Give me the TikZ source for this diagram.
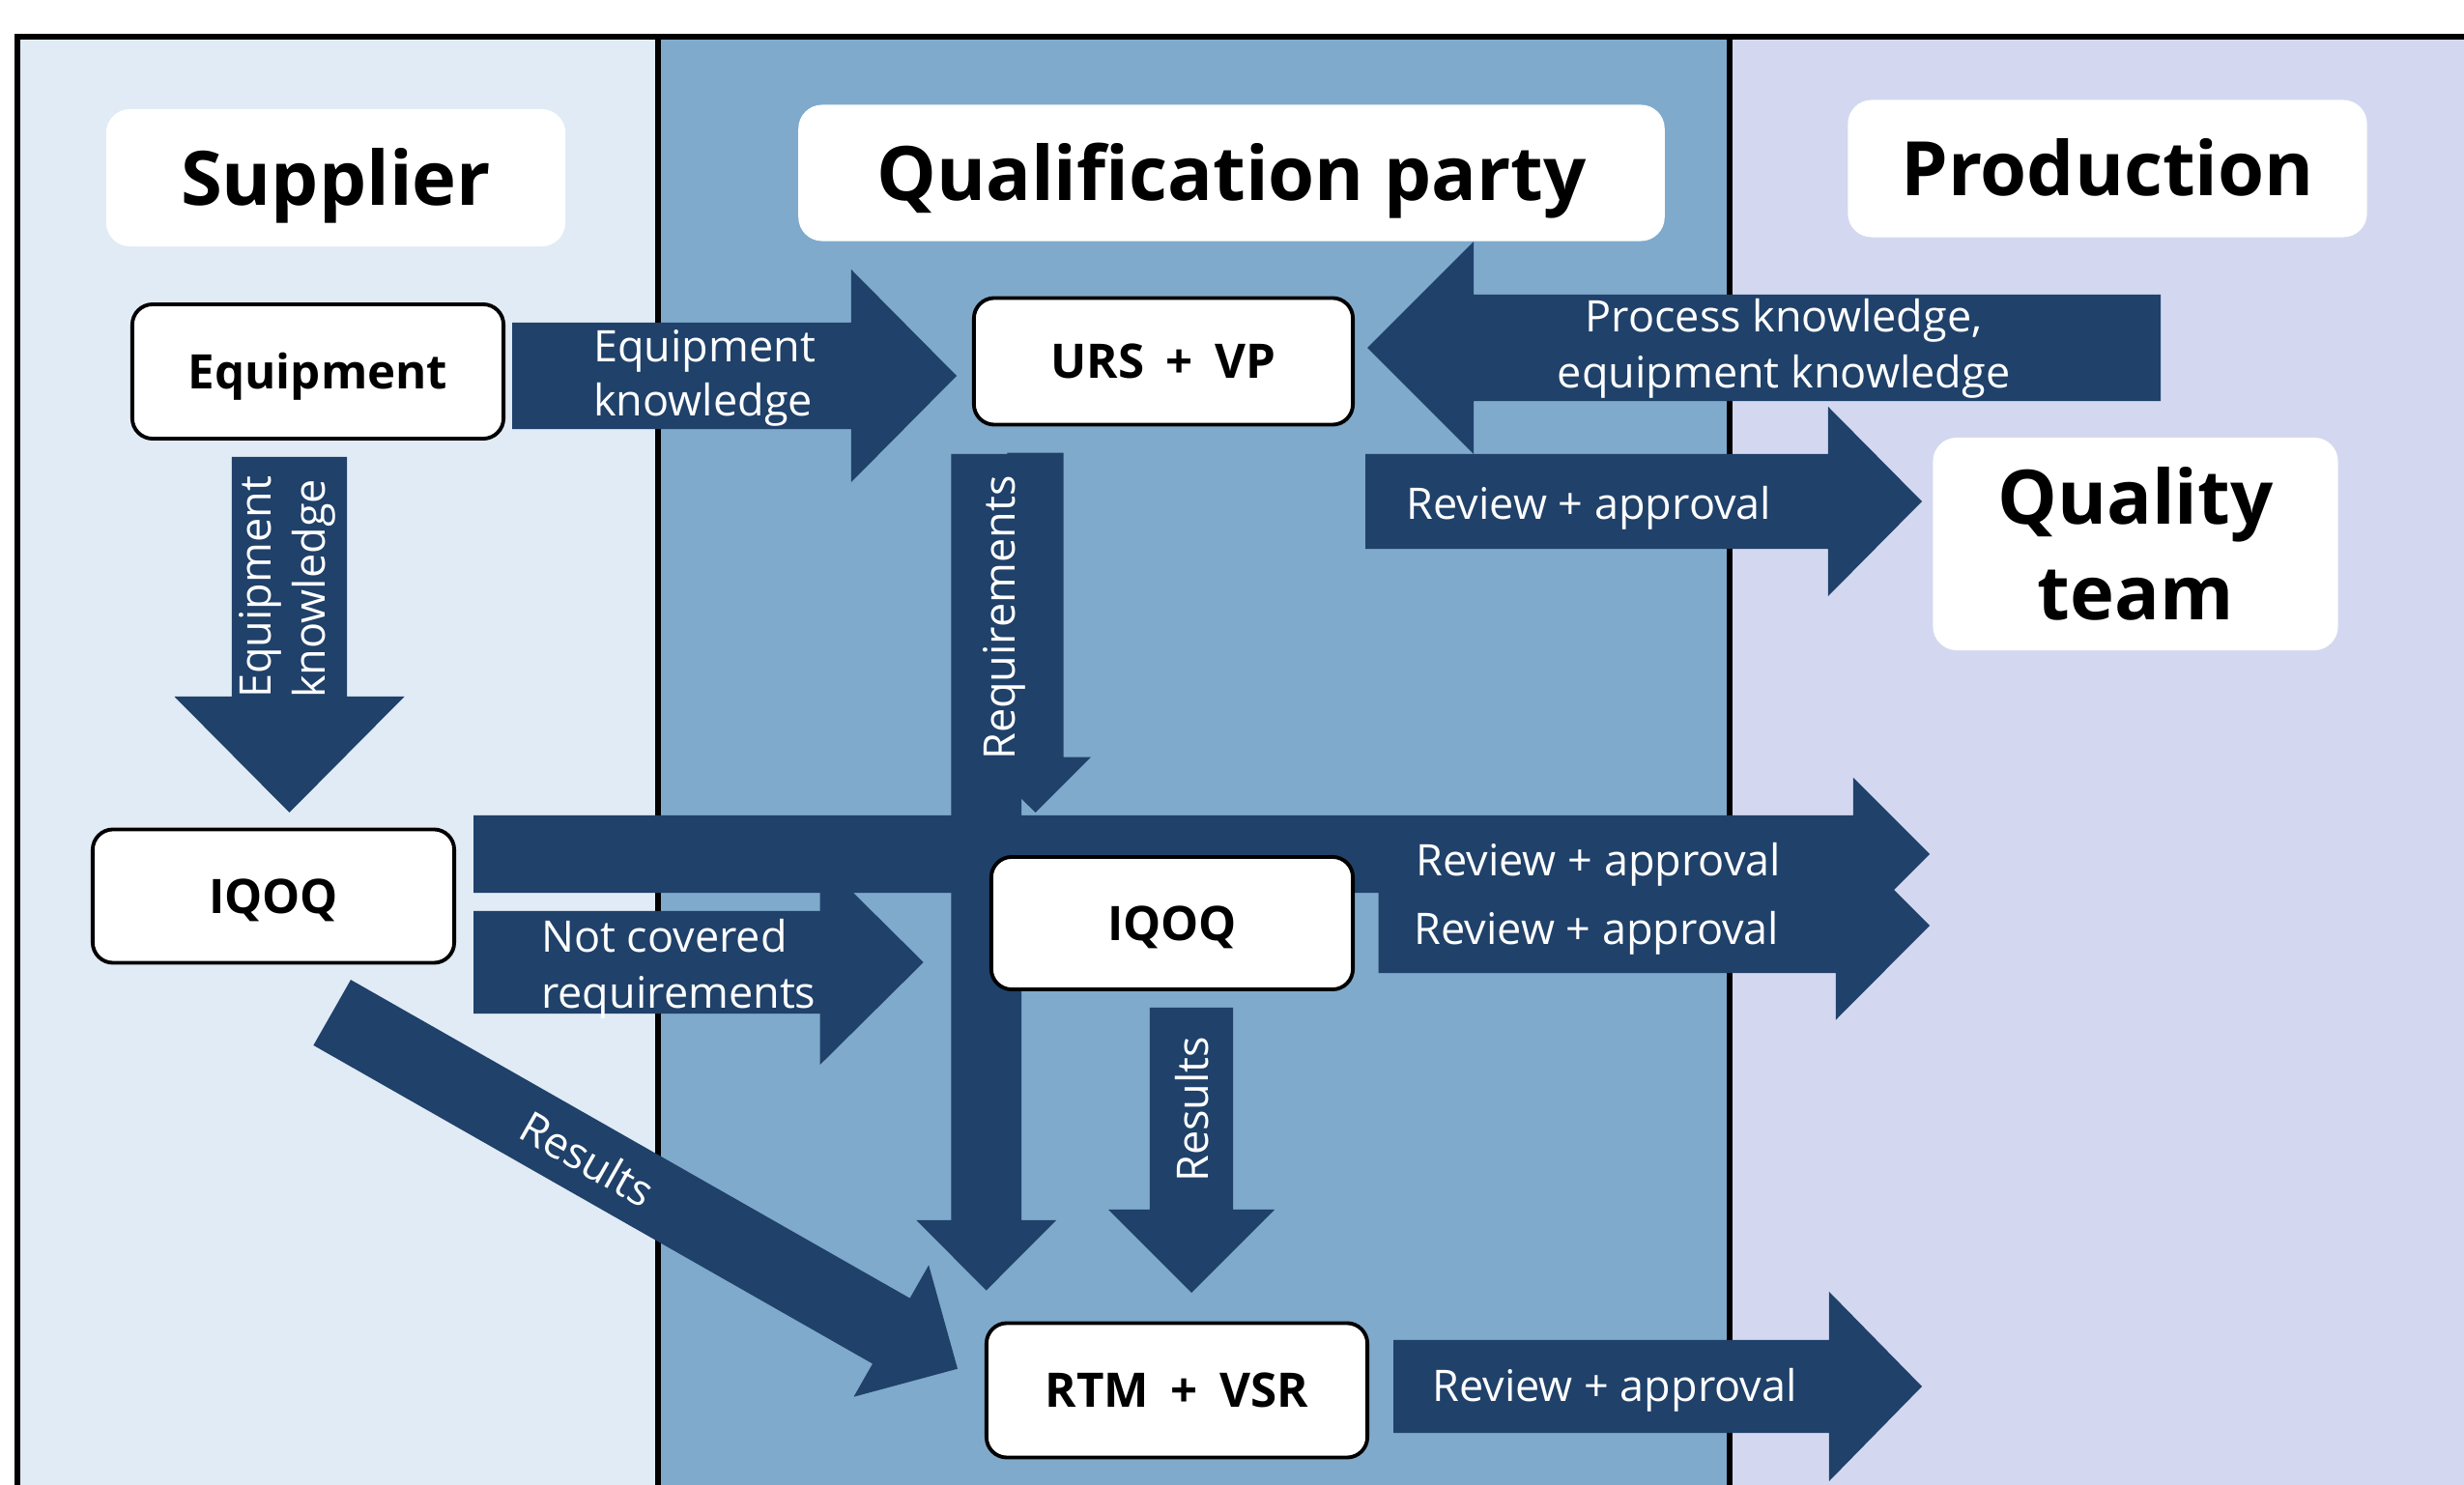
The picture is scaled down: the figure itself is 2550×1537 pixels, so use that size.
\documentclass[tikz,border=0pt]{standalone}
\usepackage{fontspec}
\setmainfont{Open Sans}
\usetikzlibrary{calc}

\definecolor{lanesup}{HTML}{E1EBF5}
\definecolor{lanequal}{HTML}{7FAACB}
\definecolor{laneprod}{HTML}{D3D8F0}
\definecolor{navy}{HTML}{1F416A}

\newcommand{\plusgap}{\hspace{0.46em}}

\tikzset{
  arrowfill/.style={fill=navy},
  laneline/.style={line width=1.6pt, draw=black},
  titlebox/.style={fill=white, rounded corners=7pt, inner sep=0pt,
    font=\fontsize{22.1}{28}\selectfont\bfseries, align=center},
  capcentre/.style={text height=16pt, text depth=0pt},
  itembox/.style={draw=black, line width=1.1pt, fill=white, rounded corners=6pt,
    inner sep=0pt, font=\fontsize{14}{17}\selectfont\bfseries,
    text height=10pt, text depth=0pt},
  lbl/.style={text=white, inner sep=0pt, font=\fontsize{12.8}{16}\selectfont},
}

% block arrow: #1 tail, #2 tip, #3 half shaft width, #4 half head width, #5 head length
\newcommand{\blockarrow}[5]{%
  \coordinate (ba-neck) at ($(#2)!#5!(#1)$);
  \fill[arrowfill] ($(#1)!#3!90:(#2)$) -- ($(ba-neck)!#3!90:(#2)$)
    -- ($(ba-neck)!#4!90:(#2)$) -- (#2) -- ($(ba-neck)!#4!-90:(#2)$)
    -- ($(ba-neck)!#3!-90:(#2)$) -- ($(#1)!#3!-90:(#2)$) -- cycle;}

\begin{document}
\begin{tikzpicture}[x=0.01cm, y=-0.01cm]
  \useasboundingbox (0,0) rectangle (2550,1537);
  \fill[white] (0,0) rectangle (2550,1537);

  % swim lanes
  \fill[lanesup]  (18,38)   rectangle (681,1537);
  \fill[lanequal] (681,38)  rectangle (1790,1537);
  \fill[laneprod] (1790,38) rectangle (2550,1537);
  \draw[laneline] (18,1537) -- (18,38) -- (2550,38);
  \draw[laneline] (681,38) -- (681,1537);
  \draw[laneline] (1790,38) -- (1790,1537);

  % arrow end points
  \coordinate (ekR-tail) at (530,389);    \coordinate (ekR-tip) at (990,389);
  \coordinate (ekD-tail) at (299.5,473);  \coordinate (ekD-tip) at (299.5,841);
  \coordinate (pk-tail)  at (2236,360);   \coordinate (pk-tip)  at (1415,360);
  \coordinate (rq-tail)  at (1413,519);   \coordinate (rq-tip)  at (1989,519);
  \coordinate (lv-tail)  at (1020.7,470); \coordinate (lv-tip)  at (1020.7,1335.6);
  \coordinate (req-tail) at (1071.5,468.6); \coordinate (req-tip) at (1071.5,841);
  \coordinate (big-tail) at (490,884);    \coordinate (big-tip) at (1997,884);
  \coordinate (nc-tail)  at (490,996);    \coordinate (nc-tip)  at (955.7,996);
  \coordinate (rm-tail)  at (1426.5,958); \coordinate (rm-tip)  at (1997,958);
  \coordinate (rv-tail)  at (1233,1043);  \coordinate (rv-tip)  at (1233,1338);
  \coordinate (rd-tail)  at (343.7,1048); \coordinate (rd-tip)  at (991,1416.7);
  \coordinate (rr-tail)  at (1442,1435);  \coordinate (rr-tip)  at (1989,1435);

  % block arrows
  \blockarrow{ekR-tail}{ekR-tip}{0.55cm}{1.10cm}{1.09cm}
  \blockarrow{ekD-tail}{ekD-tip}{0.595cm}{1.19cm}{1.20cm}
  \blockarrow{pk-tail}{pk-tip}{0.55cm}{1.10cm}{1.10cm}
  \blockarrow{rq-tail}{rq-tip}{0.49cm}{0.98cm}{0.97cm}
  \blockarrow{lv-tail}{lv-tip}{0.363cm}{0.723cm}{0.726cm}
  \blockarrow{req-tail}{req-tip}{0.29cm}{0.575cm}{0.574cm}
  \blockarrow{big-tail}{big-tip}{0.40cm}{0.79cm}{0.79cm}
  \blockarrow{nc-tail}{nc-tip}{0.53cm}{1.06cm}{1.07cm}
  \blockarrow{rm-tail}{rm-tip}{0.49cm}{0.975cm}{0.97cm}
  \blockarrow{rv-tail}{rv-tip}{0.43cm}{0.86cm}{0.86cm}
  \blockarrow{rd-tail}{rd-tip}{0.39cm}{0.784cm}{0.79cm}
  \blockarrow{rr-tail}{rr-tip}{0.48cm}{0.98cm}{0.96cm}

  % lane titles
  \node[titlebox, capcentre, minimum width=4.75cm, minimum height=1.42cm] (supplier) at (347.5,184) {Supplier};
  \node[titlebox, capcentre, minimum width=8.96cm, minimum height=1.41cm] (qualparty) at (1274.5,179) {Qualification party};
  \node[titlebox, capcentre, minimum width=5.37cm, minimum height=1.42cm] (production) at (2181,174.5) {Production};
  \node[titlebox, minimum width=4.19cm, minimum height=2.20cm] (quality) at (2210,563) {Quality\\team};

  % documents and activities
  \node[itembox, minimum width=3.84cm, minimum height=1.39cm] (equip) at (329,384.5) {Equipment};
  \node[itembox, minimum width=3.92cm, minimum height=1.31cm] (urs) at (1204,374) {URS\plusgap+\plusgap VP};
  \node[itembox, minimum width=3.74cm, minimum height=1.38cm] (iqoqS) at (283,927.5) {IQOQ};
  \node[itembox, minimum width=3.74cm, minimum height=1.37cm] (iqoqQ) at (1213,955.5) {IQOQ};
  \node[itembox, minimum width=3.94cm, minimum height=1.39cm] (rtm) at (1218,1439) {RTM\plusgap+\plusgap VSR};

  % arrow labels
  \node[lbl, anchor=base west] (ekR1) at (613.5,375) {Equipment};
  \node[lbl, anchor=base west] (ekR2) at (613.5,431) {knowledge};
  \node[lbl, anchor=base west, rotate=90] (ekD1) at (280.6,723.5) {Equipment};
  \node[lbl, anchor=base west, rotate=90] (ekD2) at (336.6,723.5) {knowledge};
  \node[lbl, anchor=base] (pk1) at (1846,344) {Process knowledge,};
  \node[lbl, anchor=base] (pk2) at (1846,402) {equipment knowledge};
  \node[lbl, anchor=base west] (ra1) at (1455,538) {Review + approval};
  \node[lbl, anchor=base west, rotate=90] (reqtxt) at (1050.3,787.4) {Requirements};
  \node[lbl, anchor=base west] (ra2) at (1464.8,907) {Review + approval};
  \node[lbl, anchor=base west] (ra3) at (1463,977.6) {Review + approval};
  \node[lbl, anchor=base west] (nc1) at (559.5,985.7) {Not covered};
  \node[lbl, anchor=base west] (nc2) at (559.5,1043.5) {requirements};
  \node[lbl, anchor=base west, rotate=90] (res1) at (1250,1224.3) {Results};
  \node[lbl, rotate=-29.67] (res2) at (608,1199) {Results};
  \node[lbl, anchor=base west] (ra4) at (1481.6,1450) {Review + approval};
\end{tikzpicture}
\end{document}
